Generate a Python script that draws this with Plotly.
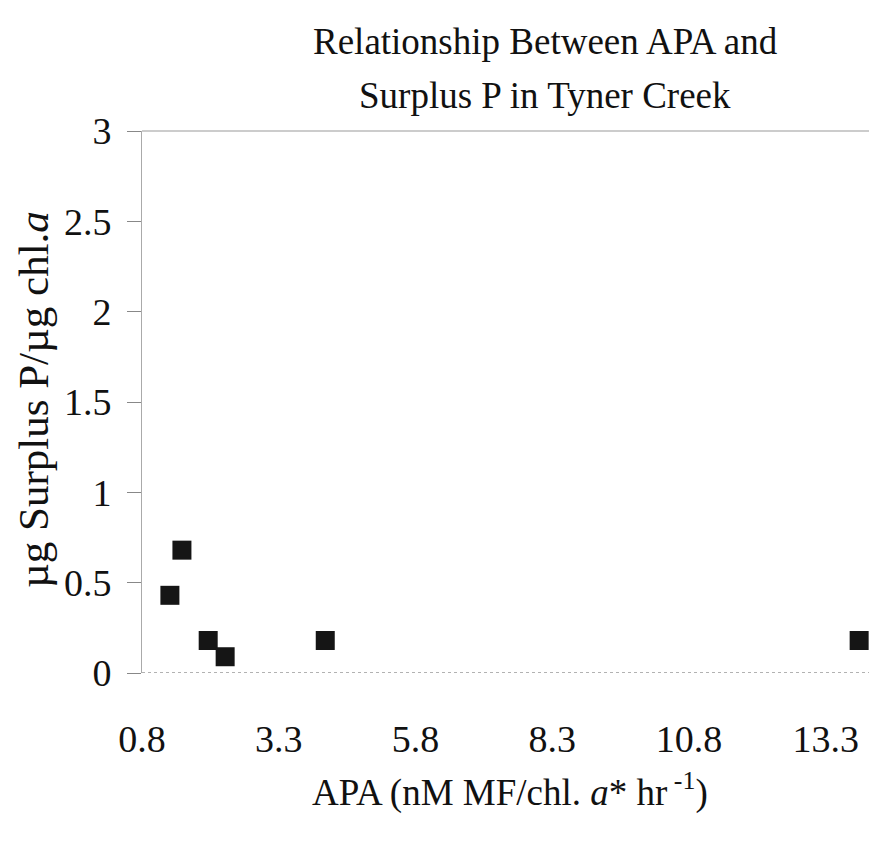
import plotly.graph_objects as go

apa = [1.31, 1.53, 2.01, 2.32, 4.15, 13.91]
surplus_p = [0.43, 0.68, 0.18, 0.09, 0.18, 0.18]
x_ticks = [0.8, 3.3, 5.8, 8.3, 10.8, 13.3]
x_labels = ["0.8", "3.3", "5.8", "8.3", "10.8", "13.3"]
y_ticks = [0, 0.5, 1, 1.5, 2, 2.5, 3]
y_labels = ["0", "0.5", "1", "1.5", "2", "2.5", "3"]

FONT = "Liberation Serif"

# plot area spans x=142..869 px and y=131..673 px
plot_left, plot_right = 142, 869
plot_top, plot_bottom = 131, 673


def px(pixel_x):
    return (pixel_x - plot_left) / (plot_right - plot_left)


def py(pixel_y):
    return (plot_bottom - pixel_y) / (plot_bottom - plot_top)


fig = go.Figure()
fig.add_trace(go.Scatter(
    x=apa, y=surplus_p, mode="markers",
    marker=dict(symbol="square", size=19, color="#151515"),
    cliponaxis=False, showlegend=False,
))

fig.update_layout(
    width=869, height=843,
    margin=dict(l=plot_left, r=869 - plot_right, t=plot_top, b=843 - plot_bottom),
    paper_bgcolor="white", plot_bgcolor="white",
    font=dict(family=FONT, size=38, color="#111"),
    xaxis=dict(
        range=[0.8, 14.09], tickmode="array", tickvals=x_ticks, ticktext=x_labels,
        showgrid=False, zeroline=False, showline=False, ticks="",
        ticklabelstandoff=40, tickfont=dict(size=38),
    ),
    yaxis=dict(
        range=[0, 3], tickmode="array", tickvals=y_ticks, ticktext=y_labels,
        showgrid=False, zeroline=False, showline=True, linecolor="#aaaaaa",
        linewidth=1, ticks="outside", ticklen=14, tickcolor="#888888",
        ticklabelstandoff=8, tickfont=dict(size=38), mirror=False,
    ),
    annotations=[
        dict(text="Relationship Between APA and", x=px(545), y=py(42),
             xref="paper", yref="paper", showarrow=False, xanchor="center",
             yanchor="middle", font=dict(size=37)),
        dict(text="Surplus P in Tyner Creek", x=px(545), y=py(95),
             xref="paper", yref="paper", showarrow=False, xanchor="center",
             yanchor="middle", font=dict(size=37)),
        dict(text="µg Surplus P/µg chl.<i>a</i>", x=px(33), y=py(400),
             xref="paper", yref="paper", textangle=-90, showarrow=False,
             xanchor="center", yanchor="middle", font=dict(size=43)),
        dict(text="APA (nM MF/chl. <i>a</i>* hr<sup> -1</sup>)", x=px(510), y=py(790),
             xref="paper", yref="paper", showarrow=False,
             xanchor="center", yanchor="middle", font=dict(size=37)),
    ],
    shapes=[
        dict(type="line", xref="paper", yref="paper", x0=0, x1=1, y0=1, y1=1,
             line=dict(color="#bbbbbb", width=1.5)),
        dict(type="line", xref="paper", yref="y", x0=0, x1=1, y0=0, y1=0,
             line=dict(color="#999999", width=1.5, dash="dot")),
    ],
)

fig.write_html("out.html")
